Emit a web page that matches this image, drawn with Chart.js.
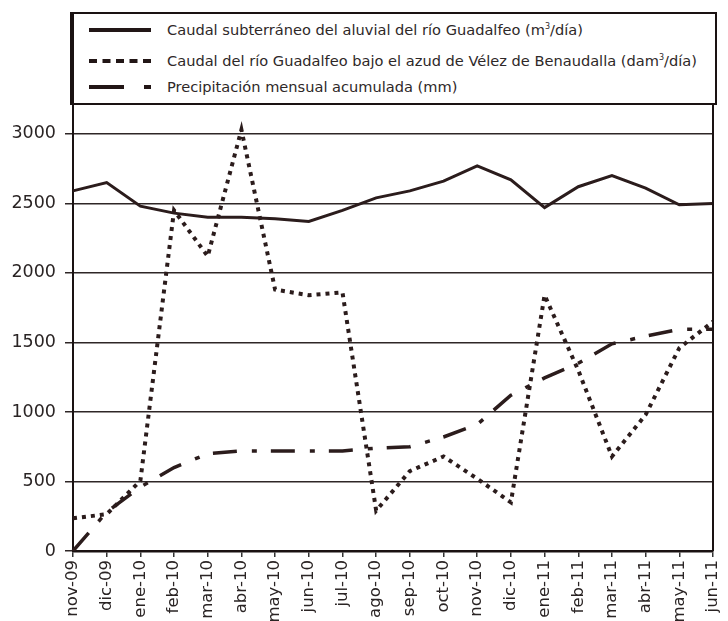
<!DOCTYPE html>
<html>
<head>
<meta charset="utf-8">
<script src="https://cdn.jsdelivr.net/npm/chart.js@4.4.1/dist/chart.umd.min.js"></script>
<style>
  html, body { margin: 0; padding: 0; background: #fff; }
  #wrap { position: relative; width: 728px; height: 621px; }
  #legend {
    position: absolute; left: 70px; top: 12px; width: 641px; height: 89px;
    border: 2px solid #1a1212; border-left-width: 4px; background: #fff;
    font-family: "DejaVu Sans", sans-serif; font-size: 14.6px; color: #2e2828;
  }
  .row { position: absolute; left: 0; height: 20px; }
  .row svg { position: absolute; left: 12px; top: 0; }
  .row span { position: absolute; left: 93px; white-space: nowrap; top: 1px; }
  sup { font-size: 8px; vertical-align: 6px; }
</style>
</head>
<body>
<div id="wrap">
  <canvas id="c" width="728" height="621"></canvas>
  <div id="legend">
    <div class="row" style="top:6px"><svg width="70" height="20"><line x1="3" y1="10" x2="65" y2="10" stroke="#221616" stroke-width="4"/></svg><span>Caudal subterráneo del aluvial del río Guadalfeo (m<sup>3</sup>/día)</span></div>
    <div class="row" style="top:37px"><svg width="70" height="20"><line x1="3" y1="10" x2="65" y2="10" stroke="#221616" stroke-width="4" stroke-dasharray="8,5.5"/></svg><span>Caudal del río Guadalfeo bajo el azud de Vélez de Benaudalla (dam<sup>3</sup>/día)</span></div>
    <div class="row" style="top:63px"><svg width="70" height="20"><line x1="3" y1="10" x2="38" y2="10" stroke="#221616" stroke-width="4"/><line x1="58" y1="10" x2="65" y2="10" stroke="#221616" stroke-width="4"/></svg><span>Precipitación mensual acumulada (mm)</span></div>
  </div>
</div>
<script>
const categories = ["nov-09","dic-09","ene-10","feb-10","mar-10","abr-10","may-10","jun-10","jul-10","ago-10","sep-10","oct-10","nov-10","dic-10","ene-11","feb-11","mar-11","abr-11","may-11","jun-11"];
const caudalSubterraneo = [2590,2650,2480,2430,2400,2400,2390,2370,2450,2540,2590,2660,2770,2670,2470,2620,2700,2610,2490,2500];
const caudalRio = [235,265,505,2450,2120,3030,1880,1840,1860,290,575,680,520,350,1840,1300,680,980,1460,1650];
const precipitacion = [0,280,460,600,700,720,720,720,720,740,750,820,910,1120,1245,1350,1490,1545,1595,1595];
const yTicks = [0,500,1000,1500,2000,2500,3000];
const seriesNames = [
  "Caudal subterráneo del aluvial del río Guadalfeo (m³/día)",
  "Caudal del río Guadalfeo bajo el azud de Vélez de Benaudalla (dam³/día)",
  "Precipitación mensual acumulada (mm)"
];

const lineColor = "#2b1c1c";

const rightBorder = {
  id: "rightBorder",
  afterDraw(chart) {
    const { ctx, chartArea } = chart;
    ctx.save();
    ctx.strokeStyle = "#1a1212";
    ctx.lineWidth = 2;
    ctx.beginPath();
    ctx.moveTo(chartArea.right, chartArea.top);
    ctx.lineTo(chartArea.right, chartArea.bottom);
    ctx.stroke();
    ctx.restore();
  }
};

new Chart(document.getElementById("c"), {
  type: "line",
  data: {
    labels: categories,
    datasets: [
      { label: seriesNames[0], data: caudalSubterraneo, borderColor: lineColor, borderWidth: 3, pointRadius: 0, tension: 0, order: 1 },
      { label: seriesNames[1], data: caudalRio, borderColor: lineColor, borderWidth: 4, borderDash: [4,5], pointRadius: 0, tension: 0, order: 2 },
      { label: seriesNames[2], data: precipitacion, borderColor: lineColor, borderWidth: 3.5, borderDash: [24,15,5,14], pointRadius: 0, tension: 0, order: 3 }
    ]
  },
  options: {
    responsive: false,
    animation: false,
    devicePixelRatio: 1,
    layout: { padding: { top: 104, right: 15, left: 0, bottom: 0 } },
    plugins: { legend: { display: false }, tooltip: { enabled: false } },
    scales: {
      x: {
        offset: false,
        grid: { display: true, drawOnChartArea: false, drawTicks: true, tickLength: 6, color: "#333", lineWidth: 1.5 },
        border: { display: true, color: "#1a1212", width: 2.5 },
        ticks: {
          color: "#2a2424", autoSkip: false, minRotation: 90, maxRotation: 90, padding: 3,
          font: { family: "DejaVu Sans", size: 16.5 }
        },
        afterFit(scale) { scale.height = 70; scale.paddingLeft = 0; scale.paddingRight = 0; }
      },
      y: {
        min: 0, max: 3215,
        afterBuildTicks(scale) { scale.ticks = yTicks.map(v => ({ value: v })); },
        grid: { display: true, drawOnChartArea: true, drawTicks: true, tickLength: 8, color: "#2e2626", lineWidth: 1.5 },
        border: { display: true, color: "#1a1212", width: 2 },
        ticks: {
          color: "#2a2424", padding: 9,
          font: { family: "DejaVu Sans", size: 17.5 },
          callback: (v) => String(v)
        },
        afterFit(scale) { scale.width = 73; scale.paddingTop = 0; scale.paddingBottom = 0; }
      }
    }
  },
  plugins: [rightBorder]
});
</script>
</body>
</html>
